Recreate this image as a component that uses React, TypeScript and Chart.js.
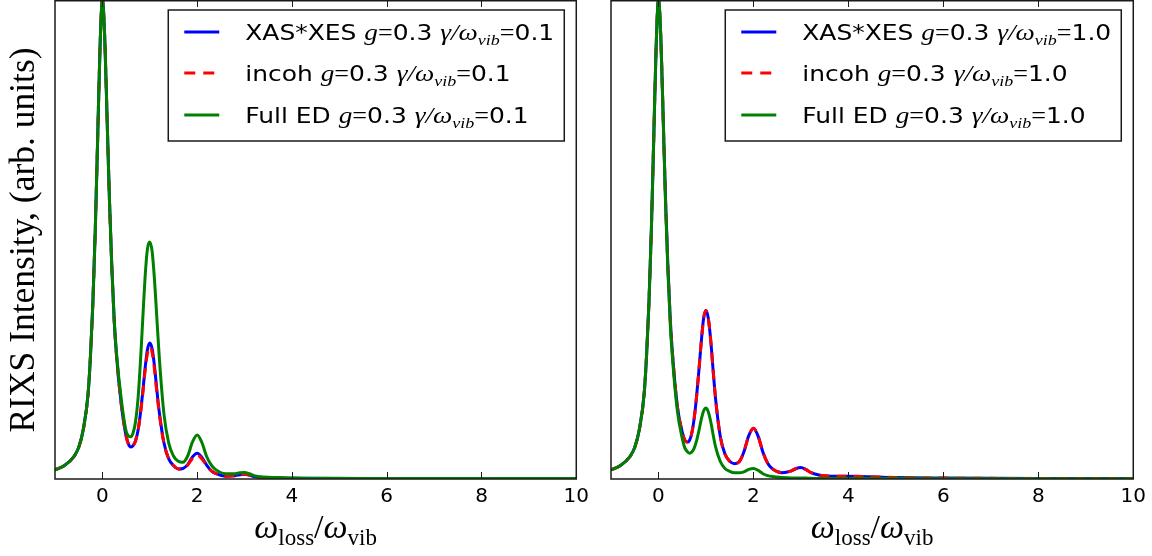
import React, { useEffect, useRef } from "react";
import { Chart, registerables } from "chart.js";
Chart.register(...registerables);

// x = omega_loss / omega_vib
const X_VALUES = [-1, -0.8, -0.6, -0.5, -0.4, -0.3, -0.25, -0.2, -0.15, -0.1, -0.05, 0, 0.05, 0.1, 0.15, 0.2, 0.25, 0.3, 0.4, 0.5, 0.55, 0.6, 0.65, 0.7, 0.75, 0.8, 0.85, 0.9, 0.95, 1, 1.05, 1.1, 1.15, 1.2, 1.3, 1.4, 1.5, 1.6, 1.7, 1.8, 1.9, 2, 2.1, 2.2, 2.3, 2.4, 2.6, 2.8, 2.9, 3, 3.1, 3.2, 3.4, 3.7, 4, 5, 6, 8, 10];
const X_TICKS = [0, 2, 4, 6, 8, 10];
const X_MIN = -1;
const X_MAX = 10;

// left panel: gamma/omega_vib = 0.1
const LEFT_XAS = [0.019, 0.028, 0.047, 0.066, 0.105, 0.18, 0.26, 0.37, 0.52, 0.71, 0.9, 1.0, 0.92, 0.75, 0.58, 0.44, 0.33, 0.255, 0.155, 0.09, 0.073, 0.067, 0.07, 0.08, 0.1, 0.135, 0.18, 0.23, 0.27, 0.284, 0.272, 0.235, 0.185, 0.14, 0.075, 0.042, 0.028, 0.021, 0.022, 0.03, 0.046, 0.054, 0.045, 0.029, 0.017, 0.011, 0.006, 0.007, 0.009, 0.01, 0.008, 0.005, 0.003, 0.002, 0.0015, 0.001, 0.001, 0.001, 0.001];
const LEFT_INCOH = [0.019, 0.028, 0.047, 0.066, 0.105, 0.18, 0.26, 0.37, 0.52, 0.71, 0.9, 1.0, 0.92, 0.75, 0.58, 0.44, 0.33, 0.255, 0.155, 0.09, 0.073, 0.067, 0.07, 0.08, 0.1, 0.133, 0.176, 0.224, 0.262, 0.276, 0.264, 0.228, 0.18, 0.137, 0.074, 0.042, 0.028, 0.021, 0.022, 0.029, 0.043, 0.05, 0.042, 0.028, 0.017, 0.011, 0.006, 0.007, 0.009, 0.01, 0.008, 0.005, 0.003, 0.002, 0.0015, 0.001, 0.001, 0.001, 0.001];
const LEFT_FULL = [0.019, 0.028, 0.047, 0.066, 0.105, 0.18, 0.26, 0.37, 0.52, 0.71, 0.9, 1.0, 0.92, 0.75, 0.58, 0.44, 0.33, 0.26, 0.165, 0.1, 0.09, 0.088, 0.097, 0.12, 0.165, 0.24, 0.33, 0.42, 0.48, 0.495, 0.475, 0.415, 0.335, 0.255, 0.135, 0.075, 0.048, 0.037, 0.035, 0.048, 0.077, 0.092, 0.076, 0.047, 0.029, 0.019, 0.011, 0.011, 0.013, 0.0135, 0.011, 0.007, 0.004, 0.003, 0.002, 0.0015, 0.001, 0.001, 0.001];

// right panel: gamma/omega_vib = 1.0
const RIGHT_XAS = [0.019, 0.028, 0.047, 0.066, 0.105, 0.18, 0.26, 0.37, 0.52, 0.71, 0.9, 1.0, 0.92, 0.75, 0.58, 0.44, 0.33, 0.255, 0.15, 0.098, 0.082, 0.077, 0.08, 0.095, 0.125, 0.17, 0.225, 0.285, 0.335, 0.352, 0.335, 0.29, 0.228, 0.17, 0.09, 0.052, 0.037, 0.032, 0.036, 0.057, 0.09, 0.106, 0.089, 0.056, 0.033, 0.021, 0.013, 0.017, 0.022, 0.024, 0.02, 0.014, 0.008, 0.006, 0.006, 0.003, 0.002, 0.001, 0.001];
const RIGHT_INCOH = [0.019, 0.028, 0.047, 0.066, 0.105, 0.18, 0.26, 0.37, 0.52, 0.71, 0.9, 1.0, 0.92, 0.75, 0.58, 0.44, 0.33, 0.255, 0.15, 0.098, 0.082, 0.077, 0.08, 0.095, 0.125, 0.17, 0.225, 0.285, 0.335, 0.352, 0.335, 0.29, 0.228, 0.17, 0.09, 0.052, 0.037, 0.032, 0.036, 0.057, 0.09, 0.106, 0.089, 0.056, 0.033, 0.021, 0.013, 0.017, 0.022, 0.024, 0.02, 0.014, 0.008, 0.006, 0.006, 0.003, 0.002, 0.001, 0.001];
const RIGHT_FULL = [0.019, 0.028, 0.047, 0.066, 0.105, 0.18, 0.26, 0.37, 0.52, 0.71, 0.9, 1.0, 0.92, 0.75, 0.57, 0.43, 0.32, 0.245, 0.14, 0.085, 0.066, 0.058, 0.054, 0.056, 0.064, 0.079, 0.1, 0.124, 0.142, 0.148, 0.14, 0.12, 0.093, 0.068, 0.037, 0.022, 0.016, 0.013, 0.013, 0.015, 0.02, 0.022, 0.018, 0.011, 0.007, 0.005, 0.003, 0.002, 0.002, 0.002, 0.002, 0.0015, 0.001, 0.001, 0.001, 0.001, 0.0005, 0.0005, 0.0005];

const SERIES_NAMES = ["XAS*XES", "incoh", "Full ED"];
const G_VALUE = "0.3";
const LEFT_GAMMA = "0.1";
const RIGHT_GAMMA = "1.0";
const Y_TITLE = "RIXS Intensity, (arb. units)";

const COLORS = ["#0000ff", "#ff0000", "#008000"];
const DASH = [10, 7];
const SANS = "'DejaVu Sans'";
const SERIF = "'Liberation Serif'";
const FRAME = "#1a1a1a";

type Seg = { t: string; f: string; dy?: number };

function drawSegs(ctx: CanvasRenderingContext2D, segs: Seg[], x: number, y: number) {
  let cx = x;
  for (const s of segs) {
    ctx.font = s.f;
    ctx.fillText(s.t, cx, y + (s.dy || 0));
    cx += ctx.measureText(s.t).width;
  }
  return cx - x;
}
function segsWidth(ctx: CanvasRenderingContext2D, segs: Seg[]) {
  let w = 0;
  for (const s of segs) {
    ctx.font = s.f;
    w += ctx.measureText(s.t).width;
  }
  return w;
}

const overlayPlugin = {
  id: "overlay",
  afterDraw(chart: any) {
    const opts = chart.options.plugins.overlay || {};
    const { ctx, chartArea: a, scales } = chart;
    const xs = scales.x;
    ctx.save();
    // frame
    ctx.strokeStyle = FRAME;
    ctx.lineWidth = 1.5;
    ctx.strokeRect(a.left, a.top + 0.75, a.right - a.left, a.bottom - a.top - 0.75);
    // inward ticks
    ctx.lineWidth = 1;
    for (const v of X_TICKS) {
      const px = Math.round(xs.getPixelForValue(v)) + 0.5;
      ctx.beginPath();
      ctx.moveTo(px, a.bottom);
      ctx.lineTo(px, a.bottom - 7);
      ctx.moveTo(px, a.top);
      ctx.lineTo(px, a.top + 7);
      ctx.stroke();
    }
    // legend
    const lw = 396, lh = 131;
    const lx = a.right - 12 - lw;
    const ly = a.top + 10;
    ctx.fillStyle = "#ffffff";
    ctx.fillRect(lx, ly, lw, lh);
    ctx.strokeStyle = FRAME;
    ctx.lineWidth = 1.5;
    ctx.strokeRect(lx, ly, lw, lh);
    const rows = [ly + 22, ly + 63, ly + 105];
    const fs = 21.5;
    for (let i = 0; i < 3; i++) {
      const cy = rows[i];
      ctx.beginPath();
      ctx.strokeStyle = COLORS[i];
      ctx.lineWidth = 3;
      ctx.setLineDash(i === 1 ? [11, 8] : []);
      ctx.moveTo(lx + 16, cy);
      ctx.lineTo(lx + 51, cy);
      ctx.stroke();
      ctx.setLineDash([]);
      ctx.fillStyle = "#000";
      ctx.textBaseline = "alphabetic";
      ctx.textAlign = "left";
      const segs: Seg[] = [
        { t: SERIES_NAMES[i] + " ", f: `${fs}px ${SANS}` },
        { t: "g", f: `italic ${fs + 2}px ${SERIF}` },
        { t: "=", f: `${fs + 1}px ${SERIF}` },
        { t: G_VALUE + " ", f: `${fs}px ${SANS}` },
        { t: "γ/ω", f: `italic ${fs + 2}px ${SERIF}` },
        { t: "vib", f: `italic ${fs - 6}px ${SERIF}`, dy: 5 },
        { t: "=", f: `${fs + 1}px ${SERIF}` },
        { t: opts.gamma, f: `${fs}px ${SANS}` },
      ];
      ctx.save();
      ctx.translate(lx + 77, cy + 8);
      ctx.scale(1.16, 1);
      drawSegs(ctx, segs, 0, 0);
      ctx.restore();
    }
    // x title
    const tsegs: Seg[] = [
      { t: "ω", f: `italic 34px ${SERIF}` },
      { t: "loss", f: `23px ${SERIF}`, dy: 7 },
      { t: "/", f: `34px ${SERIF}` },
      { t: "ω", f: `italic 34px ${SERIF}` },
      { t: "vib", f: `23px ${SERIF}`, dy: 7 },
    ];
    const tw = segsWidth(ctx, tsegs);
    ctx.fillStyle = "#000";
    drawSegs(ctx, tsegs, (a.left + a.right) / 2 - tw / 2, 538);
    // y title
    if (opts.yTitle) {
      ctx.translate(34, 240);
      ctx.rotate(-Math.PI / 2);
      ctx.textAlign = "center";
      ctx.textBaseline = "alphabetic";
      ctx.font = `35.5px ${SERIF}`;
      ctx.fillText(Y_TITLE, 0, 0);
    }
    ctx.restore();
  },
};

type PanelProps = {
  left: number;
  width: number;
  padLeft: number;
  padRight: number;
  xas: number[];
  incoh: number[];
  full: number[];
  gamma: string;
  yTitle: boolean;
};

function Panel(p: PanelProps) {
  const ref = useRef<HTMLCanvasElement | null>(null);
  useEffect(() => {
    if (!ref.current) return;
    const mk = (ys: number[]) => X_VALUES.map((x, i) => ({ x, y: ys[i] }));
    const chart = new Chart(ref.current, {
      type: "line",
      data: {
        datasets: [
          { label: SERIES_NAMES[0], data: mk(p.xas), order: 3, borderColor: COLORS[0], borderWidth: 3, pointRadius: 0, cubicInterpolationMode: "monotone", fill: false },
          { label: SERIES_NAMES[1], data: mk(p.incoh), order: 2, borderColor: COLORS[1], borderWidth: 3, borderDash: DASH, pointRadius: 0, cubicInterpolationMode: "monotone", fill: false },
          { label: SERIES_NAMES[2], data: mk(p.full), order: 1, borderColor: COLORS[2], borderWidth: 3, pointRadius: 0, cubicInterpolationMode: "monotone", fill: false },
        ],
      },
      options: {
        responsive: false,
        animation: false,
        devicePixelRatio: 1,
        events: [],
        layout: { padding: { left: p.padLeft, right: p.padRight, top: 0, bottom: 0 } },
        plugins: {
          legend: { display: false },
          tooltip: { enabled: false },
          overlay: { gamma: p.gamma, yTitle: p.yTitle },
        } as any,
        scales: {
          x: {
            type: "linear",
            min: X_MIN,
            max: X_MAX,
            grid: { display: false, drawTicks: false },
            border: { display: false },
            afterBuildTicks: (s: any) => {
              s.ticks = X_TICKS.map((v) => ({ value: v }));
            },
            afterFit: (s: any) => {
              s.height = 77;
            },
            ticks: {
              color: "#000",
              font: { family: "DejaVu Sans", size: 20 },
              padding: 6,
              maxRotation: 0,
              autoSkip: false,
            },
          },
          y: { type: "linear", display: false, min: 0, max: 1.0 },
        },
      },
      plugins: [overlayPlugin],
    } as any);
    return () => chart.destroy();
  }, []);
  return (
    <div style={{ position: "absolute", left: p.left, top: 0, width: p.width, height: 556 }}>
      <canvas ref={ref} width={p.width} height={556} style={{ display: "block" }} />
    </div>
  );
}

export default function App() {
  return (
    <div style={{ position: "absolute", left: 0, top: 0, width: 1152, height: 556, background: "#fff" }}>
      <Panel left={0} width={595} padLeft={55} padRight={15} xas={LEFT_XAS} incoh={LEFT_INCOH} full={LEFT_FULL} gamma={LEFT_GAMMA} yTitle={true} />
      <Panel left={595} width={557} padLeft={16} padRight={17} xas={RIGHT_XAS} incoh={RIGHT_INCOH} full={RIGHT_FULL} gamma={RIGHT_GAMMA} yTitle={false} />
    </div>
  );
}
